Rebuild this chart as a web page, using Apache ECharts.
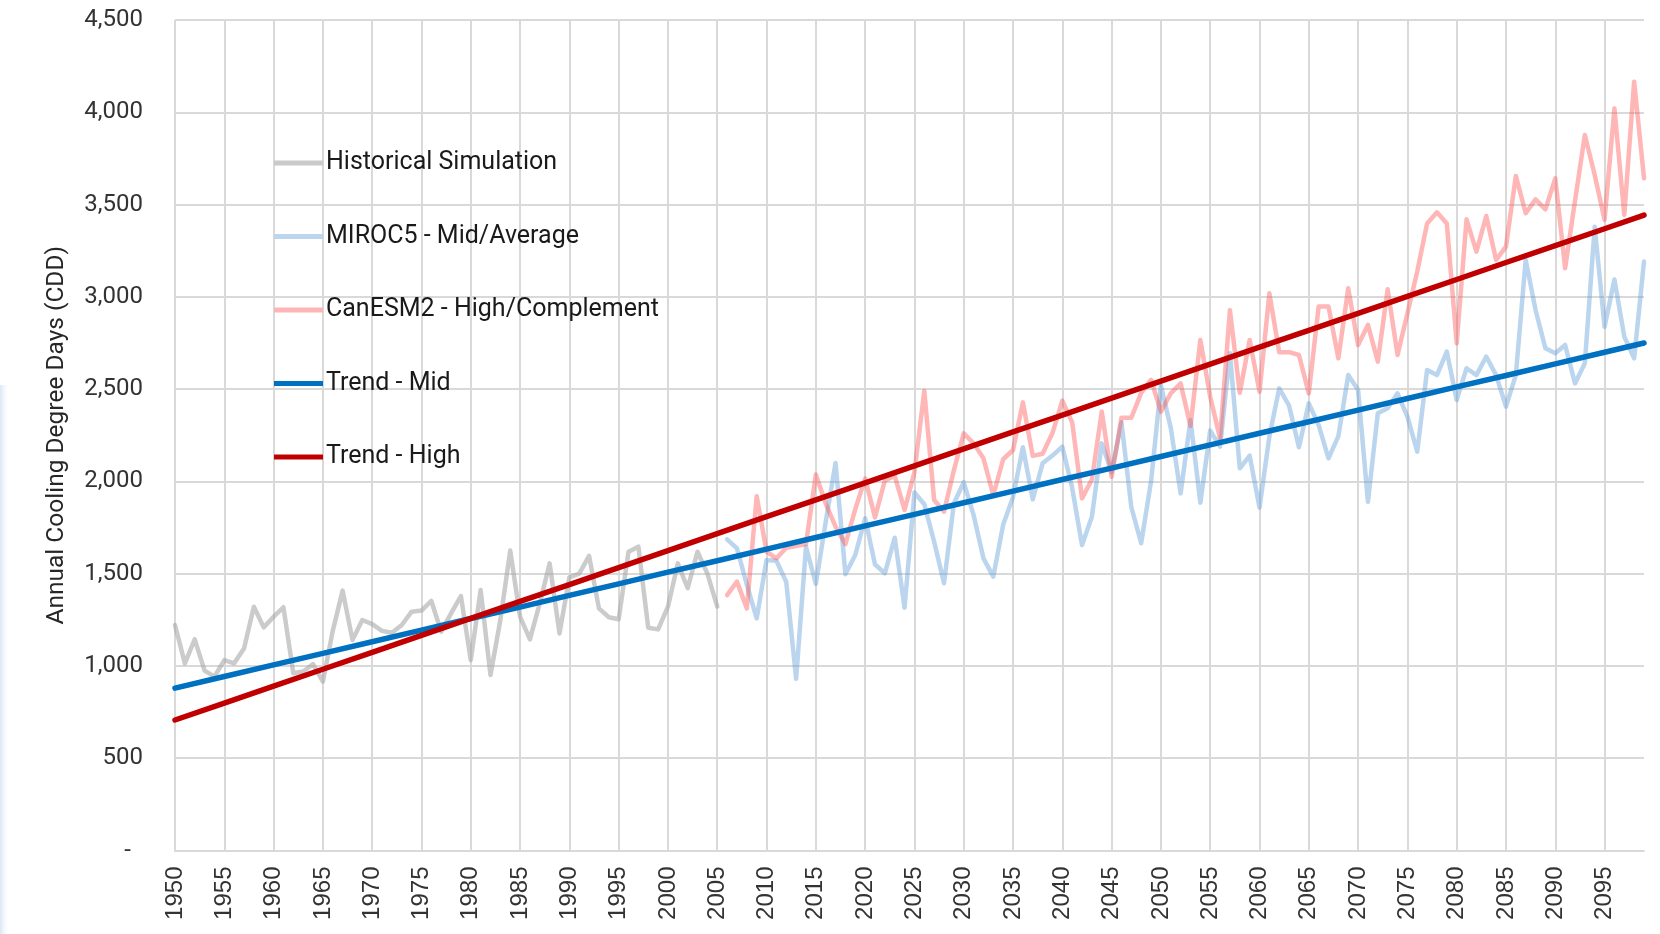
<!DOCTYPE html>
<html>
<head>
<meta charset="utf-8">
<script src="https://cdn.jsdelivr.net/npm/echarts@6/dist/echarts.min.js"></script>
<style>
  html, body { margin: 0; padding: 0; background: #ffffff; }
  #chart { width: 1660px; height: 934px; }
</style>
</head>
<body>
<div id="chart"></div>
<script>
// ---- Data ----
const firstYear = 1950;
const lastYear = 2099;
const projectionStart = 2006;

// Historical Simulation, 1950-2005
const historical = [
  1222, 1014, 1144, 975, 942, 1032, 1014, 1095, 1321, 1209,
  1267, 1318, 960, 970, 1010, 915, 1190, 1408, 1141, 1249,
  1227, 1190, 1180, 1222, 1294, 1300, 1352, 1186, 1285, 1379,
  1032, 1412, 951, 1249, 1625, 1267, 1144, 1340, 1556, 1176,
  1480, 1500, 1596, 1312, 1264, 1253, 1619, 1646, 1207, 1198,
  1321, 1556, 1421, 1619, 1500, 1321
];

// MIROC5 - Mid/Average, 2006-2099
const miroc5 = [
  1686, 1637, 1440, 1258,
  1574, 1570, 1455, 930, 1646, 1445, 1780, 2100, 1497, 1601,
  1800, 1550, 1502, 1695, 1316, 1940, 1876, 1673, 1448, 1880,
  1995, 1818, 1583, 1484, 1765, 1915, 2185, 1903, 2098, 2140,
  2188, 1965, 1655, 1809, 2206, 2050, 2320, 1860, 1665, 2000,
  2520, 2290, 1935, 2333, 1885, 2275, 2188, 2694, 2071, 2140,
  1858, 2243, 2504, 2410, 2185, 2423, 2305, 2125, 2245, 2576,
  2495, 1890, 2369, 2396, 2477, 2351, 2161, 2603, 2576, 2703,
  2441, 2613, 2576, 2676, 2576, 2405, 2576, 3200, 2929, 2721,
  2694, 2739, 2531, 2640, 3380, 2838, 3094, 2784, 2667, 3191
];

// CanESM2 - High/Complement, 2006-2099
const canesm2 = [
  1384, 1457, 1312, 1920,
  1619, 1583, 1640, 1650, 1660, 2037, 1880, 1755, 1660, 1850,
  2016, 1805, 2005, 2030, 1845, 2050, 2490, 1899, 1836, 2060,
  2260, 2206, 2125, 1925, 2120, 2170, 2428, 2138, 2150, 2262,
  2438, 2320, 1908, 2010, 2378, 2025, 2345, 2345, 2480, 2550,
  2378, 2477, 2531, 2300, 2766, 2459, 2233, 2928, 2480, 2766,
  2486, 3019, 2700, 2700, 2685, 2477, 2947, 2947, 2667, 3046,
  2739, 2848, 2649, 3041, 2685, 2910, 3137, 3398, 3458, 3398,
  2748, 3420, 3245, 3438, 3200, 3272, 3655, 3453, 3528, 3474,
  3642, 3155, 3520, 3877, 3660, 3417, 4021, 3444, 4166, 3642
];

// Trend lines, read at the 5-year grid lines and the last year
const trendYears = [
  1950, 1955, 1960, 1965, 1970, 1975, 1980, 1985, 1990, 1995,
  2000, 2005, 2010, 2015, 2020, 2025, 2030, 2035, 2040, 2045,
  2050, 2055, 2060, 2065, 2070, 2075, 2080, 2085, 2090, 2095, 2099
];
const trendMid = [
  880, 943, 1006, 1068, 1131, 1194, 1257, 1319, 1382, 1445,
  1508, 1570, 1633, 1696, 1759, 1821, 1884, 1947, 2010, 2072,
  2135, 2198, 2261, 2323, 2386, 2449, 2512, 2574, 2637, 2700, 2750
];
const trendHigh = [
  707, 799, 891, 982, 1074, 1166, 1258, 1350, 1441, 1533,
  1625, 1717, 1809, 1900, 1992, 2084, 2176, 2268, 2359, 2451,
  2543, 2635, 2727, 2818, 2910, 3002, 3094, 3186, 3277, 3369, 3443
];

const seriesNames = [
  'Historical Simulation',
  'MIROC5 - Mid/Average',
  'CanESM2 - High/Complement',
  'Trend - Mid',
  'Trend - High'
];
const yAxisTitle = 'Annual Cooling Degree Days (CDD)';

// ---- Build chart ----
const years = [];
for (let y = firstYear; y <= lastYear; y++) years.push(String(y));

const pairs = (start, vals) => vals.map((v, i) => [String(start + i), v]);
const trendPairs = (vals) => vals.map((v, i) => [String(trendYears[i]), v]);

const textFont = "Roboto, 'Liberation Sans', sans-serif";

const chart = echarts.init(document.getElementById('chart'), null, { renderer: 'canvas' });

const lineSeries = (name, data, lineColor, iconColor, width, z) => ({
  name: name,
  type: 'line',
  data: data,
  showSymbol: false,
  symbol: 'none',
  smooth: false,
  z: z,
  animation: false,
  itemStyle: { color: iconColor },
  lineStyle: { color: lineColor, width: width, cap: 'round', join: 'round' },
  emphasis: { disabled: true }
});

chart.setOption({
  backgroundColor: '#ffffff',
  animation: false,
  graphic: [{
    type: 'rect',
    left: 0, top: 385,
    shape: { width: 10, height: 549 },
    style: {
      fill: new echarts.graphic.LinearGradient(0, 0, 1, 0, [
        { offset: 0, color: 'rgba(214,228,243,0.9)' },
        { offset: 1, color: 'rgba(255,255,255,0)' }
      ])
    },
    silent: true
  }],
  grid: { left: 175, right: 16, top: 20, bottom: 83.5, containLabel: false },
  legend: {
    orient: 'vertical',
    left: 269,
    top: 142,
    icon: 'rect',
    itemWidth: 49,
    itemHeight: 5,
    itemGap: 41.5,
    selectedMode: false,
    textStyle: {
      fontFamily: textFont,
      fontSize: 25,
      color: '#1a1a1a',
      lineHeight: 32,
      padding: [0, 0, 0, -2]
    },
    data: seriesNames
  },
  xAxis: {
    type: 'category',
    data: years,
    boundaryGap: false,
    axisLine: { show: true, lineStyle: { color: '#d9d9d9', width: 2 } },
    axisTick: { show: false },
    axisLabel: {
      interval: 4,
      rotate: 90,
      margin: 16,
      fontFamily: "'Liberation Sans', Arial, sans-serif",
      fontSize: 24,
      color: '#333333'
    },
    splitLine: { show: true, interval: 4, lineStyle: { color: '#d9d9d9', width: 2 } }
  },
  yAxis: {
    type: 'value',
    min: 0,
    max: 4500,
    interval: 500,
    name: yAxisTitle,
    nameLocation: 'middle',
    nameRotate: 90,
    nameGap: 106,
    nameTextStyle: {
      fontFamily: textFont,
      fontSize: 24.5,
      color: '#262626'
    },
    axisLine: { show: false },
    axisTick: { show: false },
    axisLabel: {
      margin: 32,
      fontFamily: textFont,
      fontSize: 24,
      color: '#333333',
      formatter: function (v) {
        if (v === 0) return '{d|-}';
        return v.toLocaleString('en-US');
      },
      rich: { d: { fontFamily: textFont, fontSize: 24, color: '#333333', padding: [0, 12, 0, 0] } }
    },
    splitLine: { show: true, lineStyle: { color: '#d9d9d9', width: 2 } }
  },
  series: [
    lineSeries(seriesNames[0], pairs(firstYear, historical), 'rgba(165,165,165,0.58)', '#cacaca', 4.5, 2),
    lineSeries(seriesNames[1], pairs(projectionStart, miroc5), 'rgba(91,155,213,0.42)', '#bcd6ee', 4.5, 3),
    lineSeries(seriesNames[2], pairs(projectionStart, canesm2), 'rgba(255,80,80,0.42)', '#ffb5b5', 4.5, 4),
    lineSeries(seriesNames[3], trendPairs(trendMid), '#0070c0', '#0070c0', 5.5, 5),
    lineSeries(seriesNames[4], trendPairs(trendHigh), '#c00000', '#c00000', 5.5, 6)
  ]
});
</script>
</body>
</html>
